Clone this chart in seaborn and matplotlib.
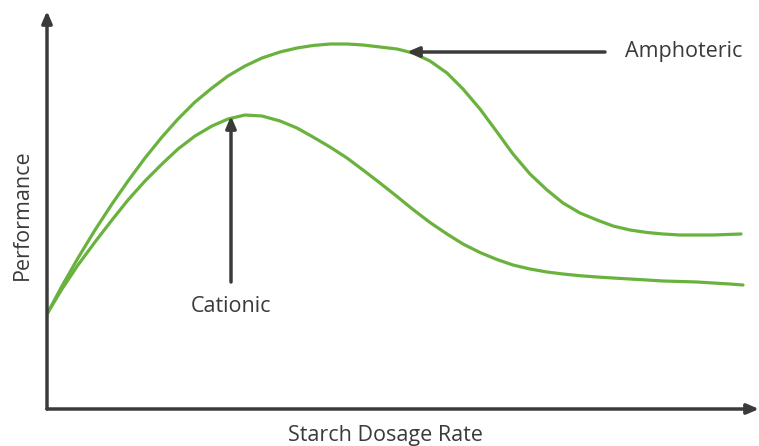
import pandas as pd
import matplotlib.pyplot as plt
import seaborn as sns

# Curve readings (dosage rate, performance) in arbitrary units
amph_dose = [0, 15, 31, 48, 65, 81, 98, 115, 131, 148, 165, 181, 198, 215, 233,
             250, 266, 283, 300, 316, 333, 350, 366, 383, 400, 416, 433, 450, 466,
             483, 500, 516, 533, 550, 566, 583, 600, 616, 633, 650, 666, 694]
amph_perf = [95, 123, 151, 179, 205, 228, 251, 272, 290, 307, 321, 333, 343, 351, 357,
             361, 363.5, 365, 365, 364, 362, 360, 356, 348, 336, 320, 300, 277, 255,
             235, 219, 206, 196, 189, 183, 179, 176.5, 175, 174, 174, 174, 175]

cat_dose = [0, 15, 31, 48, 65, 81, 98, 115, 131, 148, 165, 181, 198, 215, 233,
            250, 266, 283, 300, 316, 333, 350, 366, 383, 400, 416, 433, 450, 466,
            483, 500, 516, 533, 550, 566, 583, 600, 616, 633, 650, 666, 683, 696]
cat_perf = [95, 120, 144, 167, 189, 209, 228, 245, 260, 273, 283, 290, 294, 293, 288,
            281, 272, 262, 251, 239, 226, 212.5, 199.5, 186.5, 175, 165, 156.5, 149.5, 144,
            140, 137, 135, 133.3, 132, 131, 130, 129, 128, 127.5, 127, 126, 125, 124]

curves = pd.concat([
    pd.DataFrame({'Dosage': amph_dose, 'Performance': amph_perf, 'Starch': 'Amphoteric'}),
    pd.DataFrame({'Dosage': cat_dose, 'Performance': cat_perf, 'Starch': 'Cationic'}),
], ignore_index=True)

green = '#6ab23e'
dark = '#3a3a3a'

sns.set_style('white')
plt.rcParams['font.family'] = ['Open Sans', 'DejaVu Sans']

fig = plt.figure(figsize=(7.59, 4.46), dpi=100)
ax = fig.add_axes([47 / 759, 37 / 446, 712 / 759, 398 / 446])

sns.lineplot(data=curves, x='Dosage', y='Performance', hue='Starch',
             palette={'Amphoteric': green, 'Cationic': green},
             linewidth=2.3, legend=False, ax=ax, sort=False,
             solid_joinstyle='round', solid_capstyle='round')

ax.set_xlim(0, 712)
ax.set_ylim(0, 398)
ax.set_xticks([])
ax.set_yticks([])
for s in ax.spines.values():
    s.set_visible(False)

arrow = dict(arrowstyle='-|>,head_length=0.7,head_width=0.3',
             color=dark, lw=2.5, shrinkA=0, shrinkB=0)

# axes with arrow heads
ax.annotate('', xy=(1, 0), xytext=(0, 0), xycoords='axes fraction',
            arrowprops=arrow, annotation_clip=False)
ax.annotate('', xy=(0, 1), xytext=(0, 0), xycoords='axes fraction',
            arrowprops=arrow, annotation_clip=False)

# callouts
ax.annotate('', xy=(360, 357), xytext=(558, 357), arrowprops=arrow)
ax.text(578, 357, 'Amphoteric', fontsize=15.5, fontweight='medium',
        color=dark, ha='left', va='center')

ax.annotate('', xy=(184, 293), xytext=(184, 127), arrowprops=arrow)
ax.text(184, 103, 'Cationic', fontsize=15.5, fontweight='medium',
        color=dark, ha='center', va='center')

ax.set_xlabel('Starch Dosage Rate', fontsize=15.5, fontweight='medium', color=dark)
ax.set_ylabel('Performance', fontsize=15.5, fontweight='medium', color=dark)
ax.xaxis.set_label_coords((385 - 47) / 712, -(436 - 409) / 398)
ax.xaxis.label.set_va('center')
ax.yaxis.set_label_coords((22 - 47) / 712, (409 - 215) / 398)
ax.yaxis.label.set_va('center')

fig.savefig('out.png', dpi=100)
